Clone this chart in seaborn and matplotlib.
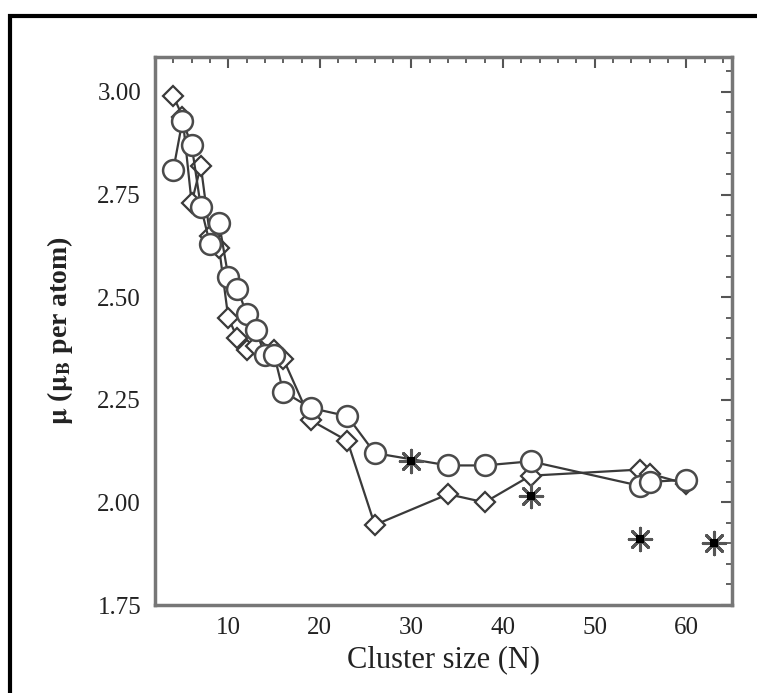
import numpy as np
import pandas as pd
import matplotlib.pyplot as plt
import seaborn as sns
from matplotlib.ticker import MultipleLocator
from matplotlib.lines import Line2D

# ============================================
# Data
# ============================================
diamond_n = [4, 5, 6, 7, 8, 9, 10, 11, 12, 13, 14, 15, 16, 19, 23, 26, 34, 38, 43, 55, 56, 60]
diamond_mu = [2.99, 2.94, 2.73, 2.82, 2.65, 2.62, 2.45, 2.40, 2.37, 2.38, 2.36, 2.37, 2.35,
              2.20, 2.15, 1.945, 2.02, 2.00, 2.065, 2.08, 2.07, 2.045]

circle_n = [4, 5, 6, 7, 8, 9, 10, 11, 12, 13, 14, 15, 16, 19, 23, 26, 34, 38, 43, 55, 56, 60]
circle_mu = [2.81, 2.93, 2.87, 2.72, 2.63, 2.68, 2.55, 2.52, 2.46, 2.42, 2.36, 2.36, 2.27,
             2.23, 2.21, 2.12, 2.09, 2.09, 2.10, 2.04, 2.05, 2.055]

star_n = [30, 43, 55, 63]
star_mu = [2.10, 2.015, 1.91, 1.90]

x_ticks = [10, 20, 30, 40, 50, 60]
y_ticks = [1.75, 2.00, 2.25, 2.50, 2.75, 3.00]

# ============================================
# Figure
# ============================================
sns.set_style("white")
plt.rcParams["font.family"] = ["Liberation Serif", "DejaVu Serif"]
plt.rcParams["mathtext.fontset"] = "stix"

W, H = 757, 693
fig = plt.figure(figsize=(W / 100, H / 100), dpi=100)
ax = fig.add_axes([155 / W, 1 - 605 / H, (732 - 155) / W, (605 - 57) / H])

line_col = "#3a3a3a"

df_d = pd.DataFrame({"N": diamond_n, "mu": diamond_mu})
df_c = pd.DataFrame({"N": circle_n, "mu": circle_mu})
df_s = pd.DataFrame({"N": star_n, "mu": star_mu})

sns.lineplot(data=df_d, x="N", y="mu", sort=False, ax=ax, color=line_col, lw=1.6,
             marker="D", markersize=10, markerfacecolor="white",
             markeredgecolor=line_col, markeredgewidth=1.6, zorder=3)
sns.lineplot(data=df_c, x="N", y="mu", sort=False, ax=ax, color=line_col, lw=1.6,
             marker="o", markersize=15, markerfacecolor="white",
             markeredgecolor="#4a4a4a", markeredgewidth=1.8, zorder=4)

# asterisks: gray burst with black core
sns.scatterplot(data=df_s, x="N", y="mu", ax=ax, marker=(8, 2, 0), s=260,
                color="#555555", linewidth=2.2, zorder=5)
sns.scatterplot(data=df_s, x="N", y="mu", ax=ax, marker="s", s=30,
                color="black", linewidth=0, zorder=6)

# ============================================
# Axes styling
# ============================================
ax.set_xlim(2, 65)
ax.set_ylim(1.75, 3.085)
ax.set_xticks(x_ticks)
ax.set_yticks(y_ticks)
ax.set_yticklabels([f"{v:.2f}" for v in y_ticks])
ax.xaxis.set_minor_locator(MultipleLocator(2))
ax.yaxis.set_minor_locator(MultipleLocator(0.05))

ax.tick_params(which="both", direction="in", top=True, right=True,
               color="#555555", labelsize=18, labelcolor="#222222")
ax.tick_params(which="major", length=8, width=1.5)
ax.tick_params(which="minor", length=4, width=1.3)
ax.tick_params(axis="y", pad=10)
ax.tick_params(axis="x", pad=9)

for sp in ax.spines.values():
    sp.set_color("#777777")
    sp.set_linewidth(2.5)

ax.set_xlabel("Cluster size (N)", fontsize=22, color="#222222", labelpad=4)
ax.set_ylabel(r"$\mathbf{\mu}$ ($\mathbf{\mu_B}$ per atom)", fontsize=20,
              fontweight="bold", color="#222222", labelpad=16)

# outer black frame (left and top edges visible)
fig.add_artist(Line2D([9.5 / W, 9.5 / W, 1], [0, 1 - 15.5 / H, 1 - 15.5 / H],
                      transform=fig.transFigure, color="black", lw=3,
                      solid_joinstyle="miter"))

fig.savefig("out.png", dpi=100)
